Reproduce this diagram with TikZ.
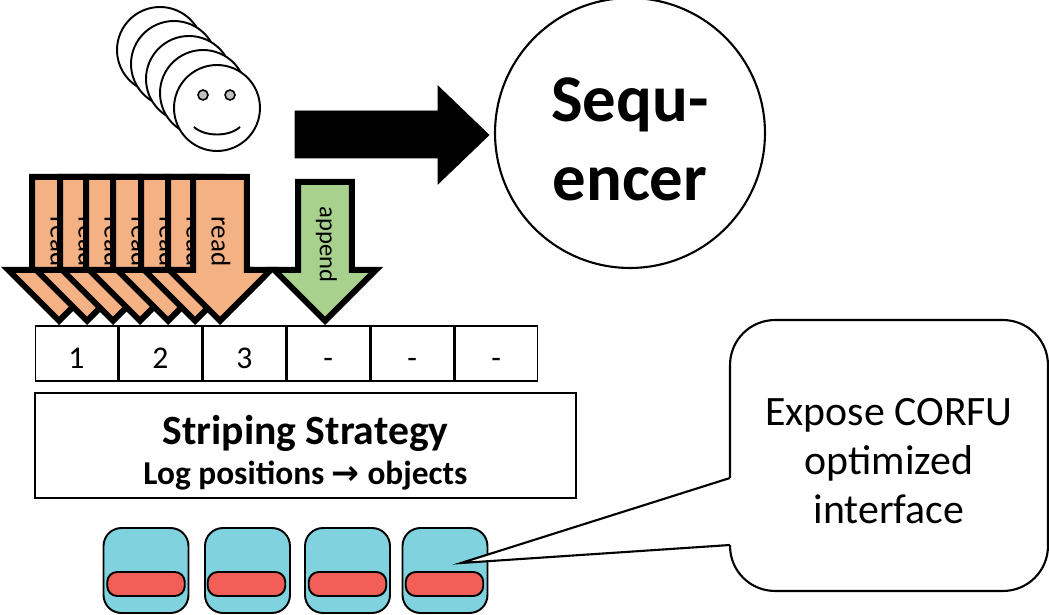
\documentclass[tikz,border=0pt]{standalone}
\usepackage{fontspec}
\setmainfont{Carlito}
\newfontfamily\arrowfont{DejaVu Sans}
\usetikzlibrary{positioning,shapes.arrows}
\definecolor{readfill}{HTML}{F4B183}
\definecolor{appendfill}{HTML}{A9D18E}
\definecolor{objfill}{HTML}{7FD2DE}
\definecolor{slotfill}{HTML}{F15F58}
\definecolor{eyefill}{HTML}{BFBFBF}
\begin{document}
\begin{tikzpicture}[
        x=0.02cm, y=-0.02cm,
        node distance=0pt,
        client/.style={circle, draw, fill=white, line width=1.1pt, minimum width=1.72cm, inner sep=0pt},
        eye/.style={circle, draw, fill=eyefill, line width=0.9pt, minimum width=0.2cm, inner sep=0pt},
        reqarrow/.style={single arrow, draw, line width=3.4pt, rotate=-90, anchor=tip, inner xsep=0pt, inner ysep=0pt,
            single arrow head extend=0.48cm, shape border uses incircle=false, minimum width=1.92cm},
        readarrow/.style={reqarrow, fill=readfill, minimum height=2.88cm, text height=18.4pt, text depth=8.9pt,
            font=\fontsize{15.4}{18}\selectfont},
        appendarrow/.style={reqarrow, fill=appendfill, minimum height=2.78cm, text height=16.6pt, text depth=10.7pt,
            font=\fontsize{14}{17}\selectfont},
        cell/.style={draw, line width=0.8pt, minimum width=1.651cm, minimum height=1.1cm, inner sep=0pt,
            text height=16.8pt, text depth=0pt, font=\fontsize{18}{21}\selectfont},
        object/.style={draw, fill=objfill, rounded corners=0.36cm, line width=1.1pt, minimum width=1.7cm, minimum height=1.7cm, inner sep=0pt},
        slot/.style={draw, fill=slotfill, rounded corners=0.2cm, line width=1.1pt, minimum width=1.55cm, minimum height=0.48cm, inner sep=0pt}]
    \useasboundingbox (0,0) rectangle (1049,615);
    % clients
    \node[client] (F1) at (160,50) {};
    \node[client] (F2) at (174,64) {};
    \node[client] (F3) at (189,79) {};
    \node[client] (F4) at (203,93) {};
    \node[client] (F5) at (217,108) {};
    \node[eye] (EL) at (203,95) {};
    \node[eye] (ER) at (230,95) {};
    \coordinate (SL) at (194,127);
    \coordinate (SR) at (240,127);
    \draw[line width=1.1pt] (SL) .. controls (205,137) and (229,137) .. (SR);
    % sequencer
    \node[circle, draw, line width=1.2pt, minimum width=5.4cm, inner sep=0pt, align=center,
        font=\fontsize{38}{45}\bfseries\selectfont] (Seq) at (630,133) {\rule{0pt}{32.6pt}Sequ-\\encer};
    \draw[fill=black] (295,111) -- (438,111) -- (438,86) -- (489,135) -- (438,184) -- (438,158) -- (295,158) -- cycle;
    % reads and append
    \node[readarrow] (R1) at (59,325) {\hspace*{7pt}read};
    \node[readarrow] (R2) at (87,325) {\hspace*{7pt}read};
    \node[readarrow] (R3) at (113,325) {\hspace*{7pt}read};
    \node[readarrow] (R4) at (140,325) {\hspace*{7pt}read};
    \node[readarrow] (R5) at (168,325) {\hspace*{7pt}read};
    \node[readarrow] (R6) at (195,325) {\hspace*{7pt}read};
    \node[readarrow] (R7) at (220,325) {\hspace*{7pt}read};
    \node[appendarrow] (App) at (325,325) {\hspace*{7.5pt}append};
    % log positions
    \node[cell] (C1) at (76.5,353.5) {1};
    \node[cell] (C2) [right=of C1] {2};
    \node[cell] (C3) [right=of C2] {3};
    \node[cell] (C4) [right=of C3] {-};
    \node[cell] (C5) [right=of C4] {-};
    \node[cell] (C6) [right=of C5] {-};
    % striping
    \node[draw, line width=1.1pt, minimum width=10.82cm, minimum height=2.1cm, inner sep=0pt, align=center,
        font=\fontsize{19}{22.8}\bfseries\selectfont] (Strip) at (305.5,445.5)
        {\rule{0pt}{25pt}{\fontsize{23.7}{22.8}\selectfont Striping Strategy}\\Log positions {\arrowfont →} objects};
    % objects
    \node[object] (O1) at (146,570.5) {};
    \node[object] (O2) at (247.5,570.5) {};
    \node[object] (O3) at (347.5,570.5) {};
    \node[object] (O4) at (445,570.5) {};
    \node[slot] (S1) at (146,584) {};
    \node[slot] (S2) at (246.5,584) {};
    \node[slot] (S3) at (347.5,584) {};
    \node[slot] (S4) at (444.5,584) {};
    % callout
    \node[draw, fill=white, line width=1.2pt, rounded corners=0.9cm, minimum width=6.36cm, minimum height=5.42cm, inner sep=0pt,
        align=center, font=\fontsize{23.8}{27.9}\selectfont] (Note) at (889,455.5) {\rule{0pt}{21.6pt}Expose CORFU\\optimized\\interface};
    \coordinate (Tip) at (461,563);
    \coordinate (NA) at (730,478);
    \coordinate (NB) at (730,545);
    \fill[white] (Tip) -- (NA) -- ++(2,0) -- ++(0,67) -- (NB) -- cycle;
    \draw[line width=1.2pt] (NA) -- (Tip) -- (NB);
\end{tikzpicture}
\end{document}
